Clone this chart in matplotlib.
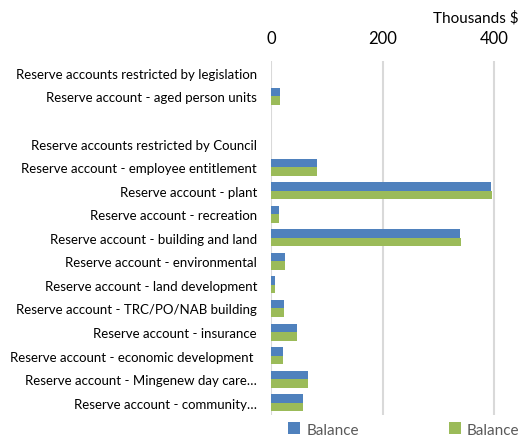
import matplotlib.pyplot as plt
import numpy as np

plt.rcParams['font.family'] = ['Lato', 'DejaVu Sans']

# reserve accounts, top to bottom (blank row is a spacer in the original)
categories = [
    'Reserve accounts restricted by legislation',
    'Reserve account - aged person units',
    '',
    'Reserve accounts restricted by Council',
    'Reserve account - employee entitlement',
    'Reserve account - plant',
    'Reserve account - recreation',
    'Reserve account - building and land',
    'Reserve account - environmental',
    'Reserve account - land development',
    'Reserve account - TRC/PO/NAB building',
    'Reserve account - insurance',
    'Reserve account - economic development ',
    'Reserve account - Mingenew day care\u2026',
    'Reserve account - community\u2026',
]
# Thousands $
balance_1 = [0, 16, 0, 0, 82, 395, 14, 338, 26, 7, 23, 46, 21, 67, 58]
balance_2 = [0, 16, 0, 0, 82, 397, 14, 340, 26, 7, 24, 46, 22, 67, 58]

fig = plt.figure(figsize=(5.22, 4.39), dpi=100)
ax = fig.add_axes([0.519, 0.0535, 0.481, 0.805])

y = np.arange(len(categories))
h = 0.36
ax.barh(y - h / 2, balance_1, height=h, color='#4F81BD', label='Balance')
ax.barh(y + h / 2, balance_2, height=h, color='#9BBB59', label='Balance')

ax.set_ylim(len(categories) - 0.5, -0.5)
ax.set_xlim(0, 450)
ax.set_xticks([0, 200, 400])
ax.xaxis.tick_top()
ax.tick_params(axis='x', length=0, labelsize=12, pad=11, colors='#000000')
ax.tick_params(axis='y', length=0, labelsize=9.5, pad=10)
ax.set_yticks(y)
ax.set_yticklabels(categories)
ax.grid(axis='x', color='#D9D9D9', linewidth=1.5)
ax.set_axisbelow(True)
for s in ax.spines.values():
    s.set_visible(False)

fig.text(0.993, 0.958, 'Thousands $', ha='right', va='center', fontsize=11)

fig.legend(loc='lower left', bbox_to_anchor=(0.525, -0.028), ncol=2,
           frameon=False, fontsize=11, handlelength=0.8, handleheight=0.8,
           handletextpad=0.4, columnspacing=5.9, labelcolor='#595959')

fig.savefig('out.png', dpi=100)
